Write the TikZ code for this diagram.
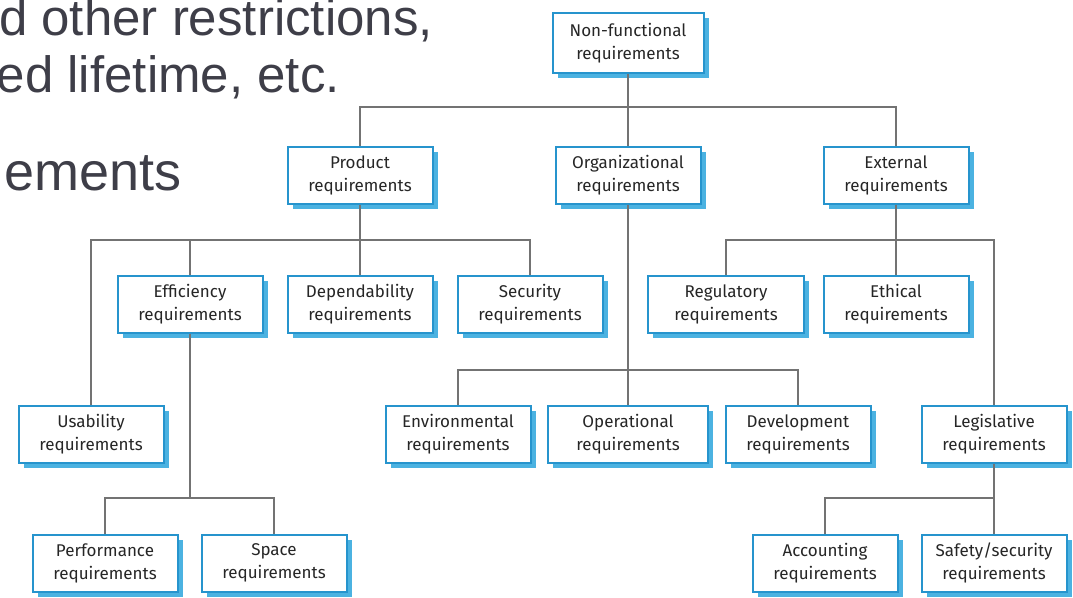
\documentclass[tikz,border=0pt]{standalone}
\usepackage{fontspec}
\setmainfont{Liberation Sans}
\newfontfamily\boxfont{Fira Sans}
\usetikzlibrary{shadows}
\definecolor{boxblue}{RGB}{38,148,205}
\definecolor{shadowblue}{RGB}{75,178,225}
\definecolor{linegray}{RGB}{115,115,115}
\definecolor{slidetext}{RGB}{62,62,72}
\tikzset{
  req/.style={draw=boxblue,line width=2pt,fill=white,minimum width=145pt,minimum height=57pt,
    align=center,text=black!85,font=\boxfont\fontsize{17}{23}\selectfont,
    drop shadow={shadow xshift=5pt,shadow yshift=-5pt,fill=shadowblue,opacity=1}},
  link/.style={draw=linegray,line width=1.1pt},
  slide/.style={text=slidetext,anchor=base east,inner sep=0pt}
}
\begin{document}
\begin{tikzpicture}[x=1pt,y=-1pt]
\useasboundingbox(0,0)rectangle(1073,597);
\clip(0,0)rectangle(1073,597);
% text of the slide behind the figure
\node[slide,font=\fontsize{51}{60}\selectfont](s1)at(433,35){d other restrictions,};
\node[slide,font=\fontsize{51}{60}\selectfont](s2)at(340,92){ed lifetime, etc.};
\node[slide,font=\fontsize{54}{60}\selectfont](s3)at(182,190){ements};
% boxes
\node[req,minimum width=151pt,minimum height=60pt](nonfunc)at(628,43){Non-functional\\requirements};
\node[req](product)at(360,175){Product\\requirements};
\node[req](organizational)at(628,175){Organizational\\requirements};
\node[req](external)at(896,175){External\\requirements};
\node[req](efficiency)at(190,304){Efficiency\\requirements};
\node[req](dependability)at(360,304){Dependability\\requirements};
\node[req](security)at(530,304){Security\\requirements};
\node[req,minimum width=156pt](regulatory)at(726,304){Regulatory\\requirements};
\node[req](ethical)at(896,304){Ethical\\requirements};
\node[req](usability)at(91,434){Usability\\requirements};
\node[req](environmental)at(458,434){Environmental\\requirements};
\node[req,minimum width=160pt](operational)at(628,434){Operational\\requirements};
\node[req](development)at(798,434){Development\\requirements};
\node[req](legislative)at(994,434){Legislative\\requirements};
\node[req](performance)at(105,563){Performance\\requirements};
\node[req](space)at(274,563){Space\\requirements};
\node[req](accounting)at(825,563){Accounting\\requirements};
\node[req](safety)at(994,563){Safety/security\\requirements};
% junction points
\coordinate(jtop)at(628,107);
\coordinate(jprod)at(360,240);
\coordinate(jext)at(896,240);
\coordinate(jorg)at(628,370);
\coordinate(jeff)at(190,498);
\coordinate(jleg)at(994,498);
% links
\draw[link](nonfunc.south)--(jtop);
\draw[link](product.north)|-(jtop)-|(external.north);
\draw[link](jtop)--(organizational.north);
\draw[link](product.south)--(jprod);
\draw[link](usability.north)|-(jprod)-|(security.north);
\draw[link](efficiency.north)--(efficiency.north|-jprod);
\draw[link](jprod)--(dependability.north);
\draw[link](external.south)--(jext);
\draw[link](regulatory.north)|-(jext)-|(legislative.north);
\draw[link](jext)--(ethical.north);
\draw[link](organizational.south)--(jorg);
\draw[link](environmental.north)|-(jorg)-|(development.north);
\draw[link](jorg)--(operational.north);
\draw[link](efficiency.south)--(jeff);
\draw[link](performance.north)|-(jeff)-|(space.north);
\draw[link](legislative.south)--(jleg);
\draw[link](accounting.north)|-(jleg)-|(safety.north);
\end{tikzpicture}
\end{document}
